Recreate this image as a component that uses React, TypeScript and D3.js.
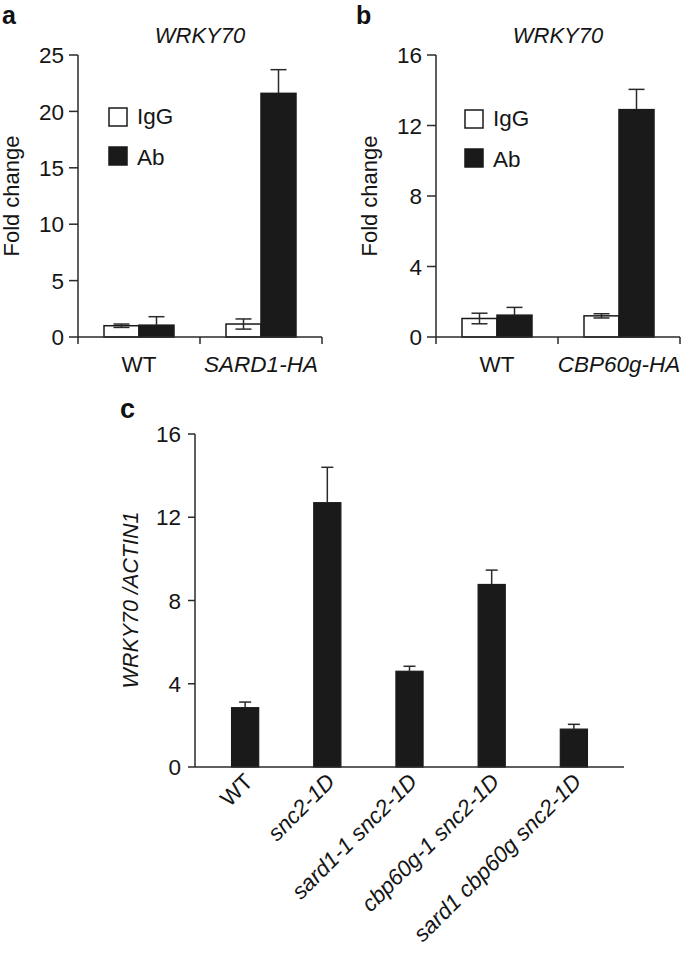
import * as d3 from "d3";

// panel a / b: ChIP fold change, IgG vs antibody
const groupsA = ["WT", "SARD1-HA"];
const iggA = [1.0, 1.15];
const iggErrA = [0.15, 0.45];
const abA = [1.05, 21.6];
const abErrA = [0.75, 2.1];
const ticksA = [0, 5, 10, 15, 20, 25];

const groupsB = ["WT", "CBP60g-HA"];
const iggB = [1.05, 1.2];
const iggErrB = [0.3, 0.12];
const abB = [1.24, 12.9];
const abErrB = [0.44, 1.15];
const ticksB = [0, 4, 8, 12, 16];

// panel c: WRKY70 expression
const genotypes = [
  "WT",
  "snc2-1D",
  "sard1-1 snc2-1D",
  "cbp60g-1 snc2-1D",
  "sard1 cbp60g snc2-1D",
];
const exprC = [2.85, 12.7, 4.6, 8.77, 1.82];
const exprErrC = [0.27, 1.7, 0.24, 0.69, 0.23];
const ticksC = [0, 4, 8, 12, 16];

const FONT = "'Liberation Sans', Arial, Helvetica, sans-serif";
const INK = "#1a1a1a";
const LINE = "#2a2a2a";
const TXT = "#151515";

function ChipPanel(props: {
  letter: string;
  groups: string[];
  igg: number[];
  iggErr: number[];
  ab: number[];
  abErr: number[];
  ticks: number[];
  left: number;
  right: number;
  legendX: number;
  legendY: number;
  ylabelX: number;
  letterX: number;
}) {
  const { groups, igg, iggErr, ab, abErr, ticks, left, right } = props;
  const top = 55;
  const bottom = 337;
  const y = d3
    .scaleLinear()
    .domain([0, ticks[ticks.length - 1]])
    .range([bottom, top]);
  const x = d3.scaleBand<string>().domain(groups).range([left, right]).padding(0);
  const barW = 35;
  const sub = d3
    .scaleBand<string>()
    .domain(["IgG", "Ab"])
    .range([x.bandwidth() / 2 - barW, x.bandwidth() / 2 + barW]);
  const cap = 8;
  const boundaries = [left, ...groups.map((g) => (x(g) ?? 0) + x.bandwidth())];

  return (
    <g>
      <text x={props.letterX} y={23.5} fontSize={25} fontWeight="bold" fill="#111">
        {props.letter}
      </text>
      <text
        x={(left + right) / 2}
        y={43}
        fontSize={22}
        fontStyle="italic"
        textAnchor="middle"
        fill={TXT}
      >
        WRKY70
      </text>
      <text
        transform={`translate(${props.ylabelX},196) rotate(-90)`}
        fontSize={22}
        textAnchor="middle"
        fill={TXT}
      >
        Fold change
      </text>

      {/* y axis */}
      <line x1={left} x2={left} y1={y(ticks[ticks.length - 1])} y2={bottom} stroke={LINE} strokeWidth={1.5} />
      {ticks.map((t) => (
        <g key={t}>
          <line x1={left - 9} x2={left} y1={y(t)} y2={y(t)} stroke={LINE} strokeWidth={1.5} />
          <text x={left - 14} y={y(t)} dy="0.36em" fontSize={22.5} textAnchor="end" fill={TXT}>
            {t}
          </text>
        </g>
      ))}

      {/* bars */}
      {groups.map((g, i) => {
        const gx = x(g) ?? 0;
        const xi = gx + (sub("IgG") ?? 0);
        const xa = gx + (sub("Ab") ?? 0);
        const ci = xi + barW / 2;
        const ca = xa + barW / 2;
        return (
          <g key={g}>
            <rect x={xi} y={y(igg[i])} width={barW} height={bottom - y(igg[i])} fill="#fff" stroke={INK} strokeWidth={1.5} />
            <rect x={xa} y={y(ab[i])} width={barW} height={bottom - y(ab[i])} fill={INK} stroke={INK} strokeWidth={1.5} />
            <g stroke={LINE} strokeWidth={1.5}>
              <line x1={ci} x2={ci} y1={y(igg[i] + iggErr[i])} y2={y(igg[i] - iggErr[i])} />
              <line x1={ci - cap} x2={ci + cap} y1={y(igg[i] + iggErr[i])} y2={y(igg[i] + iggErr[i])} />
              <line x1={ci - cap} x2={ci + cap} y1={y(igg[i] - iggErr[i])} y2={y(igg[i] - iggErr[i])} />
              <line x1={ca} x2={ca} y1={y(ab[i] + abErr[i])} y2={y(ab[i])} />
              <line x1={ca - cap} x2={ca + cap} y1={y(ab[i] + abErr[i])} y2={y(ab[i] + abErr[i])} />
            </g>
          </g>
        );
      })}

      {/* x axis */}
      <line x1={left} x2={right} y1={bottom} y2={bottom} stroke={LINE} strokeWidth={1.5} />
      {boundaries.map((b, i) => (
        <line key={i} x1={b} x2={b} y1={bottom} y2={bottom + 7} stroke={LINE} strokeWidth={1.5} />
      ))}
      {groups.map((g, i) => (
        <text
          key={g}
          x={(x(g) ?? 0) + x.bandwidth() / 2}
          y={372}
          fontSize={22.5}
          textAnchor="middle"
          fontStyle={i === 0 ? "normal" : "italic"}
          fill={TXT}
        >
          {g}
        </text>
      ))}

      {/* legend */}
      <rect x={props.legendX} y={props.legendY} width={18} height={18} fill="#fff" stroke={INK} strokeWidth={1.5} />
      <text x={props.legendX + 28} y={props.legendY + 16} fontSize={22.5} fill={TXT}>
        IgG
      </text>
      <rect x={props.legendX} y={props.legendY + 39} width={18} height={18} fill={INK} stroke={INK} strokeWidth={1.5} />
      <text x={props.legendX + 28} y={props.legendY + 57} fontSize={22.5} fill={TXT}>
        Ab
      </text>
    </g>
  );
}

function ExpressionPanel() {
  const left = 195;
  const right = 624;
  const top = 434;
  const bottom = 767;
  const y = d3.scaleLinear().domain([0, 16]).range([bottom, top]);
  const x = d3
    .scaleBand<string>()
    .domain(genotypes)
    .range([left, right])
    .paddingInner(0.67)
    .paddingOuter(0.445);
  const bw = x.bandwidth();
  const cap = 6;

  return (
    <g>
      <text x={120} y={418} fontSize={27} fontWeight="bold" fill="#111">
        c
      </text>
      <text
        transform={`translate(138,600) rotate(-90)`}
        fontSize={21.5}
        fontStyle="italic"
        textAnchor="middle"
        fill={TXT}
      >
        WRKY70 /ACTIN1
      </text>

      <line x1={left} x2={left} y1={top} y2={bottom} stroke={LINE} strokeWidth={1.5} />
      {ticksC.map((t) => (
        <g key={t}>
          <line x1={left - 7} x2={left} y1={y(t)} y2={y(t)} stroke={LINE} strokeWidth={1.5} />
          <text x={left - 14} y={y(t)} dy="0.36em" fontSize={22.5} textAnchor="end" fill={TXT}>
            {t}
          </text>
        </g>
      ))}

      {genotypes.map((g, i) => {
        const gx = x(g) ?? 0;
        const cx = gx + bw / 2;
        return (
          <g key={g}>
            <rect x={gx} y={y(exprC[i])} width={bw} height={bottom - y(exprC[i])} fill={INK} stroke={INK} strokeWidth={1.2} />
            <g stroke={LINE} strokeWidth={1.5}>
              <line x1={cx} x2={cx} y1={y(exprC[i] + exprErrC[i])} y2={y(exprC[i])} />
              <line x1={cx - cap} x2={cx + cap} y1={y(exprC[i] + exprErrC[i])} y2={y(exprC[i] + exprErrC[i])} />
            </g>
            <text
              transform={`translate(${cx + 9},783) rotate(-45)`}
              fontSize={22.5}
              textAnchor="end"
              fontStyle={i === 0 ? "normal" : "italic"}
              fill={TXT}
            >
              {g}
            </text>
          </g>
        );
      })}

      <line x1={left} x2={right} y1={bottom} y2={bottom} stroke={LINE} strokeWidth={1.5} />
    </g>
  );
}

export default function App() {
  return (
    <svg
      width={685}
      height={954}
      viewBox="0 0 685 954"
      style={{ position: "absolute", left: 0, top: 0, background: "#fff" }}
      fontFamily={FONT}
    >
      <rect width={685} height={954} fill="#fff" />
      <ChipPanel
        letter="a"
        groups={groupsA}
        igg={iggA}
        iggErr={iggErrA}
        ab={abA}
        abErr={abErrA}
        ticks={ticksA}
        left={78}
        right={322}
        legendX={109}
        legendY={108}
        ylabelX={19}
        letterX={2}
      />
      <ChipPanel
        letter="b"
        groups={groupsB}
        igg={iggB}
        iggErr={iggErrB}
        ab={abB}
        abErr={abErrB}
        ticks={ticksB}
        left={436}
        right={680}
        legendX={465}
        legendY={110}
        ylabelX={377}
        letterX={356}
      />
      <ExpressionPanel />
    </svg>
  );
}
